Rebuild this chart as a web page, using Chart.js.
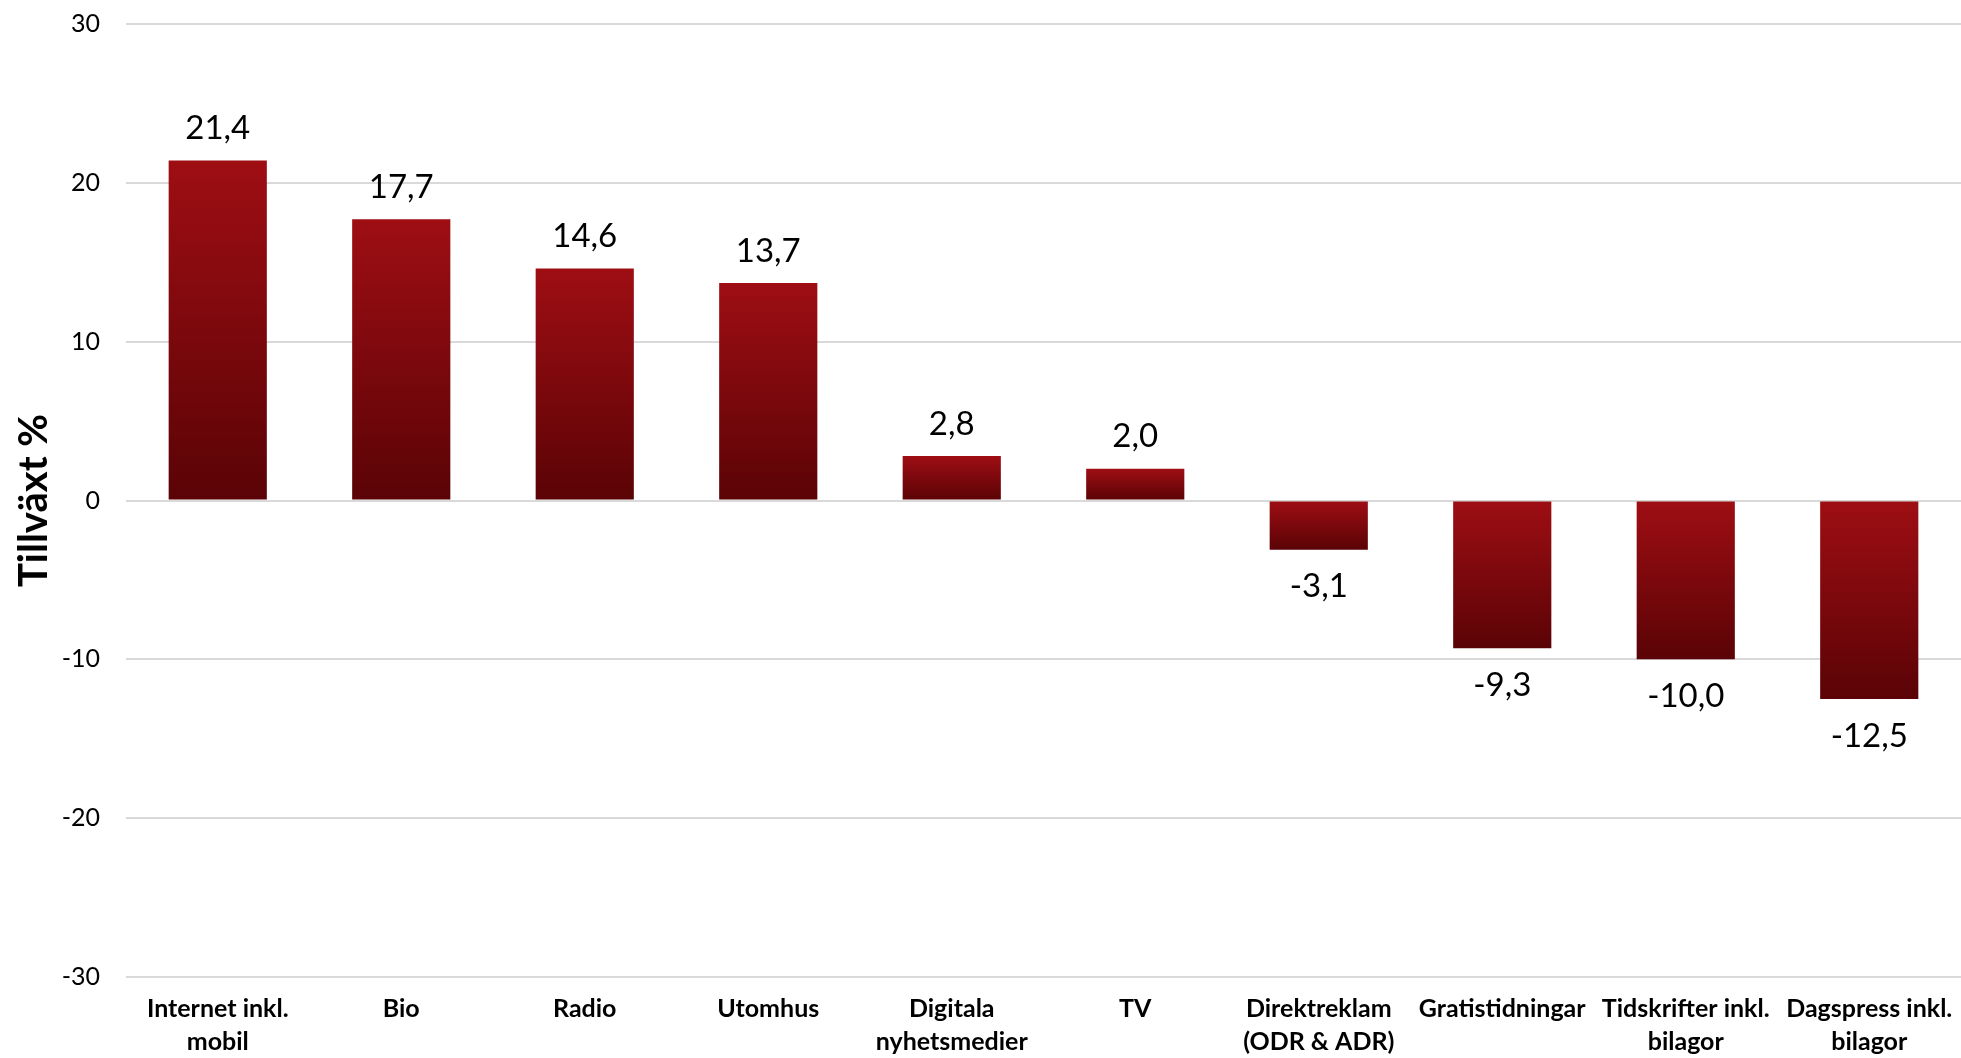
<!DOCTYPE html>
<html>
<head>
<meta charset="utf-8">
<script src="https://cdn.jsdelivr.net/npm/chart.js@4.4.1/dist/chart.umd.min.js"></script>
<style>
  html, body { margin: 0; padding: 0; background: #ffffff; }
  #wrap { width: 1961px; height: 1058px; }
</style>
</head>
<body>
<div id="wrap"><canvas id="c" width="1961" height="1058"></canvas></div>
<script>
// Annual growth by media type, per cent
const categories = [
  ['Internet inkl.', 'mobil'],
  'Bio',
  'Radio',
  'Utomhus',
  ['Digitala', 'nyhetsmedier'],
  'TV',
  ['Direktreklam', '(ODR & ADR)'],
  'Gratistidningar',
  ['Tidskrifter inkl.', 'bilagor'],
  ['Dagspress inkl.', 'bilagor']
];
const growth = [21.4, 17.7, 14.6, 13.7, 2.8, 2.0, -3.1, -9.3, -10.0, -12.5];
const yTicks = [-30, -20, -10, 0, 10, 20, 30];
const yTitle = 'Tillväxt %';

const FONT = "Lato, 'Open Sans', sans-serif";

function fmt(v) {
  return v.toFixed(1).replace('.', ',');
}

// Vertical red gradient running from each bar's top edge to its bottom edge
function barFill(ctx) {
  const chart = ctx.chart;
  const y = chart.scales && chart.scales.y;
  if (!chart.chartArea || !y || ctx.dataIndex === undefined) return '#8a0a0e';
  const v = ctx.dataset.data[ctx.dataIndex];
  const p0 = y.getPixelForValue(0);
  const p1 = y.getPixelForValue(v);
  const top = Math.min(p0, p1), bottom = Math.max(p0, p1);
  if (!isFinite(top) || !isFinite(bottom) || bottom - top < 1) return '#8a0a0e';
  const g = chart.ctx.createLinearGradient(0, top, 0, bottom);
  g.addColorStop(0, '#9e0e13');
  g.addColorStop(1, '#5a0306');
  return g;
}

// Value labels above positive bars and below negative ones
const valueLabels = {
  id: 'valueLabels',
  afterDatasetsDraw(chart) {
    const { ctx } = chart;
    const meta = chart.getDatasetMeta(0);
    ctx.save();
    ctx.font = '33px ' + FONT;
    ctx.fillStyle = '#000000';
    ctx.textAlign = 'center';
    ctx.textBaseline = 'middle';
    meta.data.forEach((bar, i) => {
      const v = growth[i];
      const yPos = v >= 0 ? bar.y - 32 : bar.y + 37;
      ctx.fillText(fmt(v), bar.x, yPos);
    });
    ctx.restore();
  }
};

new Chart(document.getElementById('c'), {
  type: 'bar',
  data: {
    labels: categories,
    datasets: [{
      data: growth,
      backgroundColor: barFill,
      borderWidth: 0,
      barPercentage: 0.535,
      categoryPercentage: 1.0
    }]
  },
  options: {
    responsive: false,
    animation: false,
    devicePixelRatio: 1,
    layout: { padding: { top: 24, right: -4, left: 0, bottom: 0 } },
    plugins: {
      legend: { display: false },
      tooltip: { enabled: false }
    },
    scales: {
      x: {
        grid: { display: false, drawTicks: false },
        border: { display: false },
        ticks: {
          color: '#000000',
          font: { family: FONT, size: 25, weight: 'bold', lineHeight: 1.3 },
          padding: 16,
          maxRotation: 0,
          autoSkip: false
        },
        afterFit(scale) {
          scale.height = 81;
          scale.paddingLeft = 0;
          scale.paddingRight = 0;
        }
      },
      y: {
        min: -30,
        max: 30,
        afterBuildTicks(scale) {
          scale.ticks = yTicks.map(v => ({ value: v }));
        },
        grid: { color: '#d9d9d9', lineWidth: 2, drawTicks: false },
        border: { display: false },
        ticks: {
          color: '#000000',
          font: { family: FONT, size: 25 },
          padding: 26,
          callback: v => String(v)
        },
        title: {
          display: true,
          text: yTitle,
          color: '#000000',
          font: { family: FONT, size: 40, weight: 'bold' },
          padding: { top: 10, bottom: 0 }
        },
        afterFit(scale) {
          scale.width = 126;
          scale.paddingTop = 0;
          scale.paddingBottom = 0;
        }
      }
    }
  },
  plugins: [valueLabels]
});
</script>
</body>
</html>
